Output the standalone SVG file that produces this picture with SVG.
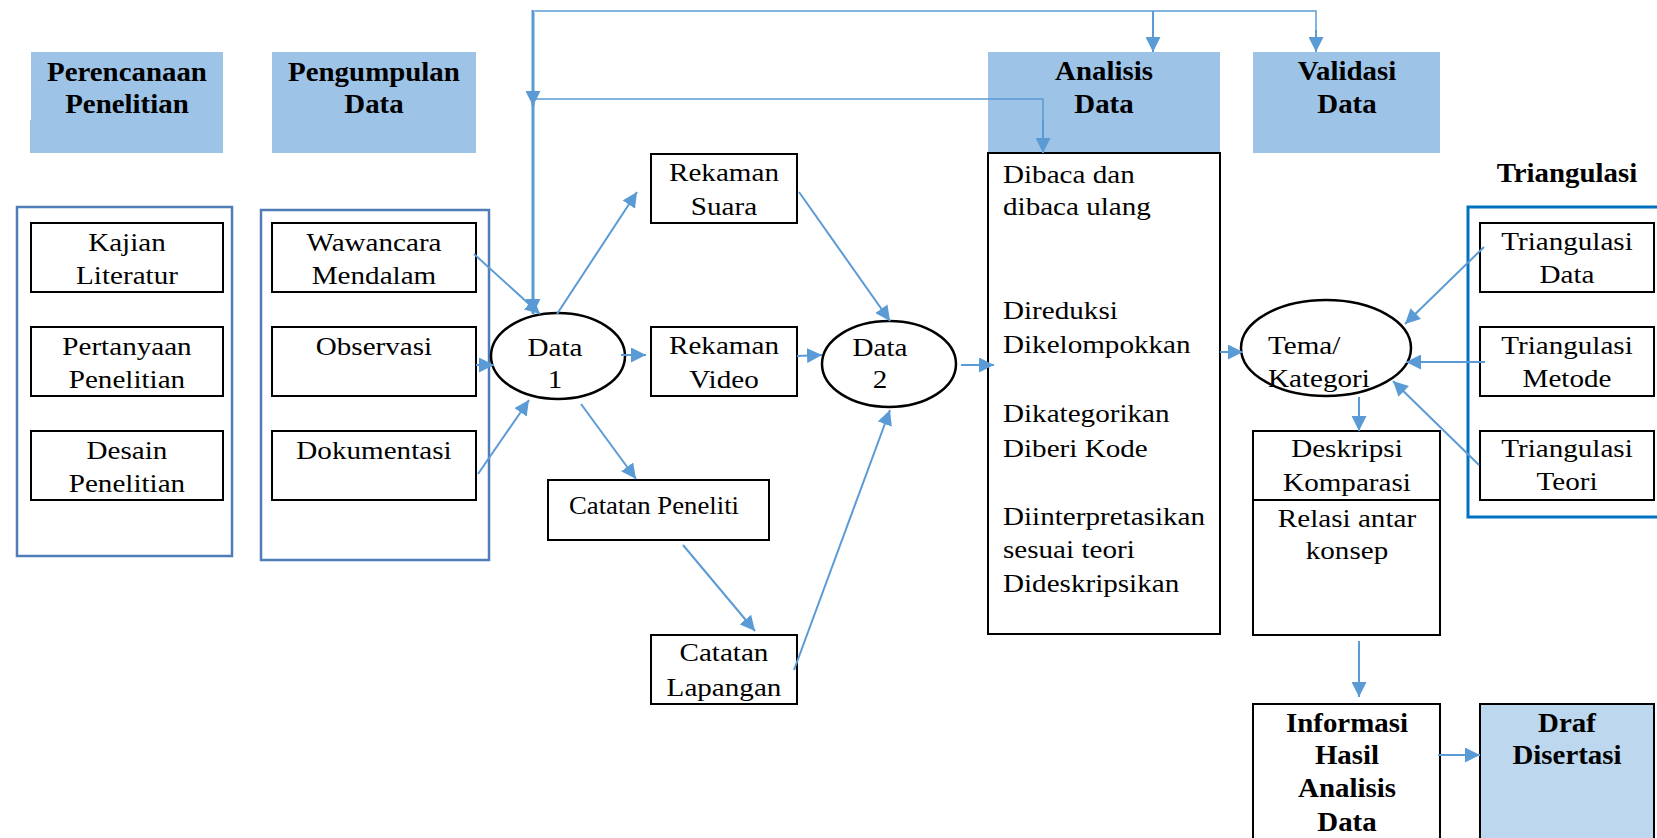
<svg xmlns="http://www.w3.org/2000/svg" width="1657" height="838" viewBox="0 0 1657 838">
<defs>
<style>
text { font-family: "Liberation Serif", "Times New Roman", serif; fill: #000; transform-box: fill-box; }
.t { font-size: 26px; transform: scaleX(1.12); transform-origin: left center; }
.s { font-size: 25px; transform: scaleX(1.07); transform-origin: left center; }
.b { font-size: 27px; font-weight: bold; transform: scaleX(1.07); transform-origin: left center; }
.c { text-anchor: middle; transform-origin: center center; }
.hdr { fill: #9DC3E6; }
.hdr2 { fill: #BDD7EE; stroke: #000; stroke-width: 2; }
.box { fill: #fff; stroke: #000; stroke-width: 2; }
.ell { fill: #fff; stroke: #000; stroke-width: 2.5; }
.grp { fill: none; stroke: #4F7DB8; stroke-width: 2.5; }
.grp2 { fill: none; stroke: #0070C0; stroke-width: 3; }
.conn { fill: none; stroke: #5B9BD5; stroke-width: 2; marker-end: url(#ah); }
.line { fill: none; stroke: #5B9BD5; stroke-width: 1.5; }
.thick { fill: none; stroke: #5B9BD5; stroke-width: 3; marker-end: url(#ah); }
</style>
<marker id="ah" markerUnits="userSpaceOnUse" markerWidth="15" markerHeight="15" viewBox="0 0 15 15" refX="15" refY="7.5" orient="auto">
<path d="M0,0 L15,7.5 L0,15 z" fill="#5B9BD5"/>
</marker>
</defs>
<rect width="1657" height="838" fill="#fff"/>

<!-- Headers -->
<g id="hdr-perencanaan">
<rect class="hdr" x="31" y="52" width="192" height="101"/>
<rect class="hdr" x="30" y="120" width="2" height="33"/>
<text class="b c" x="127" y="81">Perencanaan</text>
<text class="b c" x="127" y="113">Penelitian</text>
</g>
<g id="hdr-pengumpulan">
<rect class="hdr" x="272" y="52" width="204" height="101"/>
<text class="b c" x="374" y="81">Pengumpulan</text>
<text class="b c" x="374" y="113">Data</text>
</g>
<g id="hdr-analisis">
<rect class="hdr" x="988" y="52" width="232" height="101"/>
<text class="b c" x="1104" y="80">Analisis</text>
<text class="b c" x="1104" y="113">Data</text>
</g>
<g id="hdr-validasi">
<rect class="hdr" x="1253" y="52" width="187" height="101"/>
<text class="b c" x="1347" y="80">Validasi</text>
<text class="b c" x="1347" y="113">Data</text>
</g>
<g id="hdr-triangulasi">
<text class="b c" x="1567" y="182">Triangulasi</text>
</g>

<!-- Perencanaan group -->
<g id="grp-perencanaan">
<rect class="grp" x="17" y="207" width="215" height="349"/>
</g>
<g id="kajian">
<rect class="box" x="31" y="223" width="192" height="69"/>
<text class="t c" x="127" y="251">Kajian</text>
<text class="t c" x="127" y="284">Literatur</text>
</g>
<g id="pertanyaan">
<rect class="box" x="31" y="327" width="192" height="69"/>
<text class="t c" x="127" y="355">Pertanyaan</text>
<text class="t c" x="127" y="388">Penelitian</text>
</g>
<g id="desain">
<rect class="box" x="31" y="431" width="192" height="69"/>
<text class="t c" x="127" y="459">Desain</text>
<text class="t c" x="127" y="492">Penelitian</text>
</g>

<!-- Pengumpulan group -->
<g id="grp-pengumpulan">
<rect class="grp" x="261" y="210" width="228" height="350"/>
</g>
<g id="wawancara">
<rect class="box" x="272" y="223" width="204" height="69"/>
<text class="t c" x="374" y="251">Wawancara</text>
<text class="t c" x="374" y="284">Mendalam</text>
</g>
<g id="observasi">
<rect class="box" x="272" y="327" width="204" height="69"/>
<text class="t c" x="374" y="355">Observasi</text>
</g>
<g id="dokumentasi">
<rect class="box" x="272" y="431" width="204" height="69"/>
<text class="t c" x="374" y="459">Dokumentasi</text>
</g>

<!-- Data nodes -->
<g id="data1">
<ellipse class="ell" cx="558" cy="356" rx="67" ry="43"/>
<text class="t c" x="555" y="356">Data</text>
<text class="t c" x="555" y="388">1</text>
</g>
<g id="rekaman-suara">
<rect class="box" x="651" y="154" width="146" height="69"/>
<text class="t c" x="724" y="181">Rekaman</text>
<text class="t c" x="724" y="215">Suara</text>
</g>
<g id="rekaman-video">
<rect class="box" x="651" y="327" width="146" height="69"/>
<text class="t c" x="724" y="354">Rekaman</text>
<text class="t c" x="724" y="388">Video</text>
</g>
<g id="catatan-peneliti">
<rect class="box" x="548" y="480" width="221" height="60" stroke-width="1.5"/>
<text class="s" x="569" y="514">Catatan Peneliti</text>
</g>
<g id="catatan-lapangan">
<rect class="box" x="651" y="635" width="146" height="69"/>
<text class="t c" x="724" y="661">Catatan</text>
<text class="t c" x="724" y="696">Lapangan</text>
</g>
<g id="data2">
<ellipse class="ell" cx="889" cy="364" rx="67" ry="43"/>
<text class="t c" x="880" y="356">Data</text>
<text class="t c" x="880" y="388">2</text>
</g>

<!-- Analisis -->
<g id="analisis-box">
<rect class="box" x="988" y="153" width="232" height="481"/>
<text class="t" x="1003" y="183">Dibaca dan</text>
<text class="t" x="1003" y="215">dibaca ulang</text>
<text class="t" x="1003" y="319">Direduksi</text>
<text class="t" x="1003" y="353">Dikelompokkan</text>
<text class="t" x="1003" y="422">Dikategorikan</text>
<text class="t" x="1003" y="457">Diberi Kode</text>
<text class="t" x="1003" y="525">Diinterpretasikan</text>
<text class="t" x="1003" y="558">sesuai teori</text>
<text class="t" x="1003" y="592">Dideskripsikan</text>
</g>

<g id="tema">
<ellipse class="ell" cx="1326" cy="348" rx="85" ry="48"/>
<text class="t" x="1268" y="354">Tema/</text>
<text class="t" x="1268" y="387">Kategori</text>
</g>

<g id="deskripsi">
<rect class="box" x="1253" y="431" width="187" height="69"/>
<text class="t c" x="1347" y="457">Deskripsi</text>
<text class="t c" x="1347" y="491">Komparasi</text>
</g>
<g id="relasi">
<rect class="box" x="1253" y="500" width="187" height="135"/>
<text class="t c" x="1347" y="527">Relasi antar</text>
<text class="t c" x="1347" y="559">konsep</text>
</g>

<!-- Triangulasi -->
<g id="grp-triangulasi">
<rect class="grp2" x="1468" y="207" width="200" height="310"/>
</g>
<g id="tri-data">
<rect class="box" x="1480" y="223" width="174" height="69"/>
<text class="t c" x="1567" y="250">Triangulasi</text>
<text class="t c" x="1567" y="283">Data</text>
</g>
<g id="tri-metode">
<rect class="box" x="1480" y="327" width="174" height="69"/>
<text class="t c" x="1567" y="354">Triangulasi</text>
<text class="t c" x="1567" y="387">Metode</text>
</g>
<g id="tri-teori">
<rect class="box" x="1480" y="431" width="174" height="69"/>
<text class="t c" x="1567" y="457">Triangulasi</text>
<text class="t c" x="1567" y="490">Teori</text>
</g>

<g id="informasi">
<rect class="box" x="1253" y="704" width="187" height="150"/>
<text class="b c" x="1347" y="732">Informasi</text>
<text class="b c" x="1347" y="764">Hasil</text>
<text class="b c" x="1347" y="797">Analisis</text>
<text class="b c" x="1347" y="831">Data</text>
</g>
<g id="draf">
<rect class="hdr2" x="1480" y="704" width="174" height="150"/>
<text class="b c" x="1567" y="732">Draf</text>
<text class="b c" x="1567" y="764">Disertasi</text>
</g>

<!-- Connectors -->
<g id="connectors">
<path class="line" d="M535,11 H1316 V38"/>
<path class="conn" d="M1153,11 V52"/>
<path class="conn" d="M1316,30 V52"/>
<path class="line" d="M535,99 H1043 V130"/>
<path class="conn" d="M1043,120 V153"/>
<path class="thick" d="M533,10 V106"/>
<path class="thick" d="M533,99 V314"/>
<path class="conn" d="M474,254 L540,314"/>
<path class="conn" d="M476,365 L494,365"/>
<path class="conn" d="M478,474 L529,400"/>
<path class="conn" d="M557,314 L637,192"/>
<path class="conn" d="M621,355 L646,355"/>
<path class="conn" d="M581,404 L636,479"/>
<path class="conn" d="M799,192 L890,321"/>
<path class="conn" d="M797,356 L822,355"/>
<path class="conn" d="M683,545 L755,631"/>
<path class="conn" d="M794,670 L890,410"/>
<path class="conn" d="M961,365 L994,365"/>
<path class="conn" d="M1220,352 L1243,352"/>
<path class="conn" d="M1359,397 L1359,431"/>
<path class="conn" d="M1484,247 L1405,324"/>
<path class="conn" d="M1485,362 L1406,362"/>
<path class="conn" d="M1479,465 L1393,381"/>
<path class="conn" d="M1359,641 L1359,697"/>
<path class="conn" d="M1438,755 L1480,755"/>
</g>
</svg>
